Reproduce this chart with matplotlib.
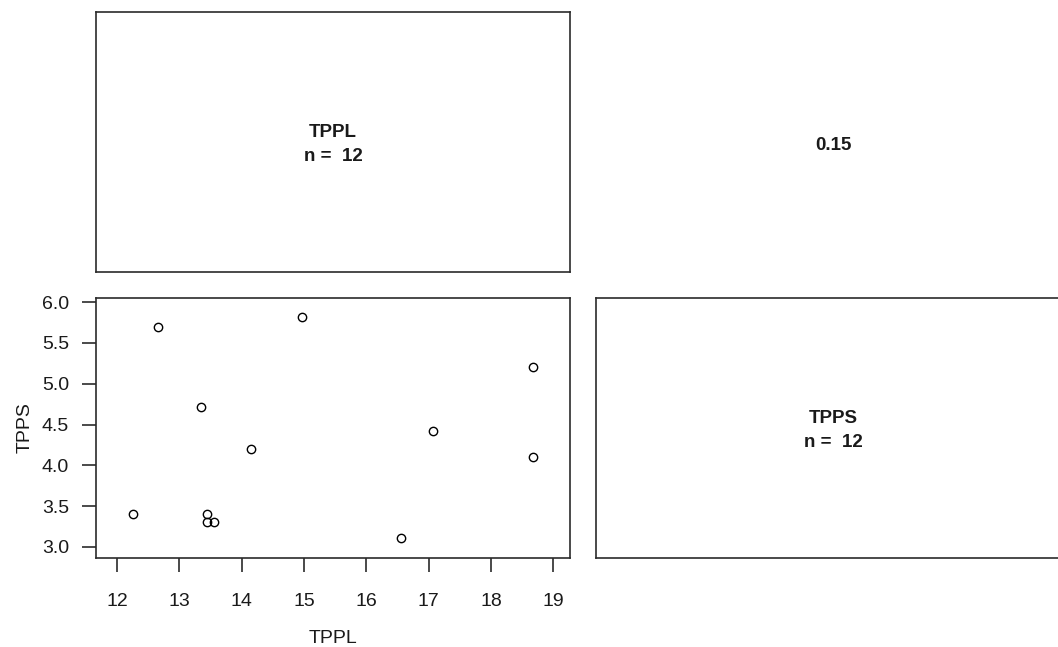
import numpy as np
import matplotlib
matplotlib.use("Agg")
import matplotlib.pyplot as plt

plt.rcParams["font.family"] = ["Liberation Sans", "DejaVu Sans"]

# data
tppl = [12.25, 12.65, 13.35, 13.45, 13.45, 13.55, 14.15, 14.97, 16.55, 17.07, 18.68, 18.68]
tpps = [3.4, 5.7, 4.71, 3.4, 3.3, 3.3, 4.2, 5.82, 3.11, 4.42, 5.2, 4.1]
var_names = ["TPPL", "TPPS"]
n_obs = 12
corr_text = "0.15"
xticks = [12, 13, 14, 15, 16, 17, 18, 19]
yticks = [3.0, 3.5, 4.0, 4.5, 5.0, 5.5, 6.0]

W, H = 1058, 647
fig = plt.figure(figsize=(W / 100, H / 100), dpi=100)

def px_axes(x0, y0, x1, y1):
    # pixel box (top-left origin) -> figure axes
    return fig.add_axes([x0 / W, (H - y1) / H, (x1 - x0) / W, (y1 - y0) / H])

edge = "#2b2b2b"
txt = "#1a1a1a"

def style(ax):
    for s in ax.spines.values():
        s.set_color(edge)
        s.set_linewidth(1.2)

def diag_label(ax, name):
    ax.set_xticks([]); ax.set_yticks([])
    ax.text(0.5, 0.49, "%s\nn =  %d" % (name, n_obs), transform=ax.transAxes,
            ha="center", va="center", multialignment="center", fontsize=13.5,
            fontweight="bold", color=txt, linespacing=1.55)

# diagonal: TPPL
ax_tl = px_axes(96, 12, 570, 272)
style(ax_tl)
diag_label(ax_tl, var_names[0])

# upper panel: correlation, no box
ax_tr = px_axes(596, 12, 1070, 272)
ax_tr.axis("off")
ax_tr.text(0.5, 0.485, corr_text, transform=ax_tr.transAxes, ha="center", va="center",
           fontsize=13.5, fontweight="bold", color=txt)

# scatter panel
ax = px_axes(96, 298, 570, 558)
style(ax)
ax.plot(tppl, tpps, linestyle="none", marker="o", markersize=6, mfc="none",
        mec="black", mew=1.0)
ax.set_xlim(11.66, 19.27)
ax.set_ylim(2.865, 6.05)
ax.set_xticks(xticks)
ax.set_yticks(yticks)
ax.set_yticklabels(["%.1f" % v for v in yticks])
ax.tick_params(axis="both", length=10, width=1.2, color=edge, labelsize=14,
               labelcolor=txt)
ax.tick_params(axis="x", pad=15)
ax.tick_params(axis="y", pad=9.4)
ax.set_xlabel(var_names[0], fontsize=14, color=txt, labelpad=14.5)
ax.set_ylabel(var_names[1], fontsize=14, color=txt, labelpad=6)

# diagonal: TPPS
ax_br = px_axes(596, 298, 1070, 558)
style(ax_br)
diag_label(ax_br, var_names[1])

fig.savefig("out.png", dpi=100)
